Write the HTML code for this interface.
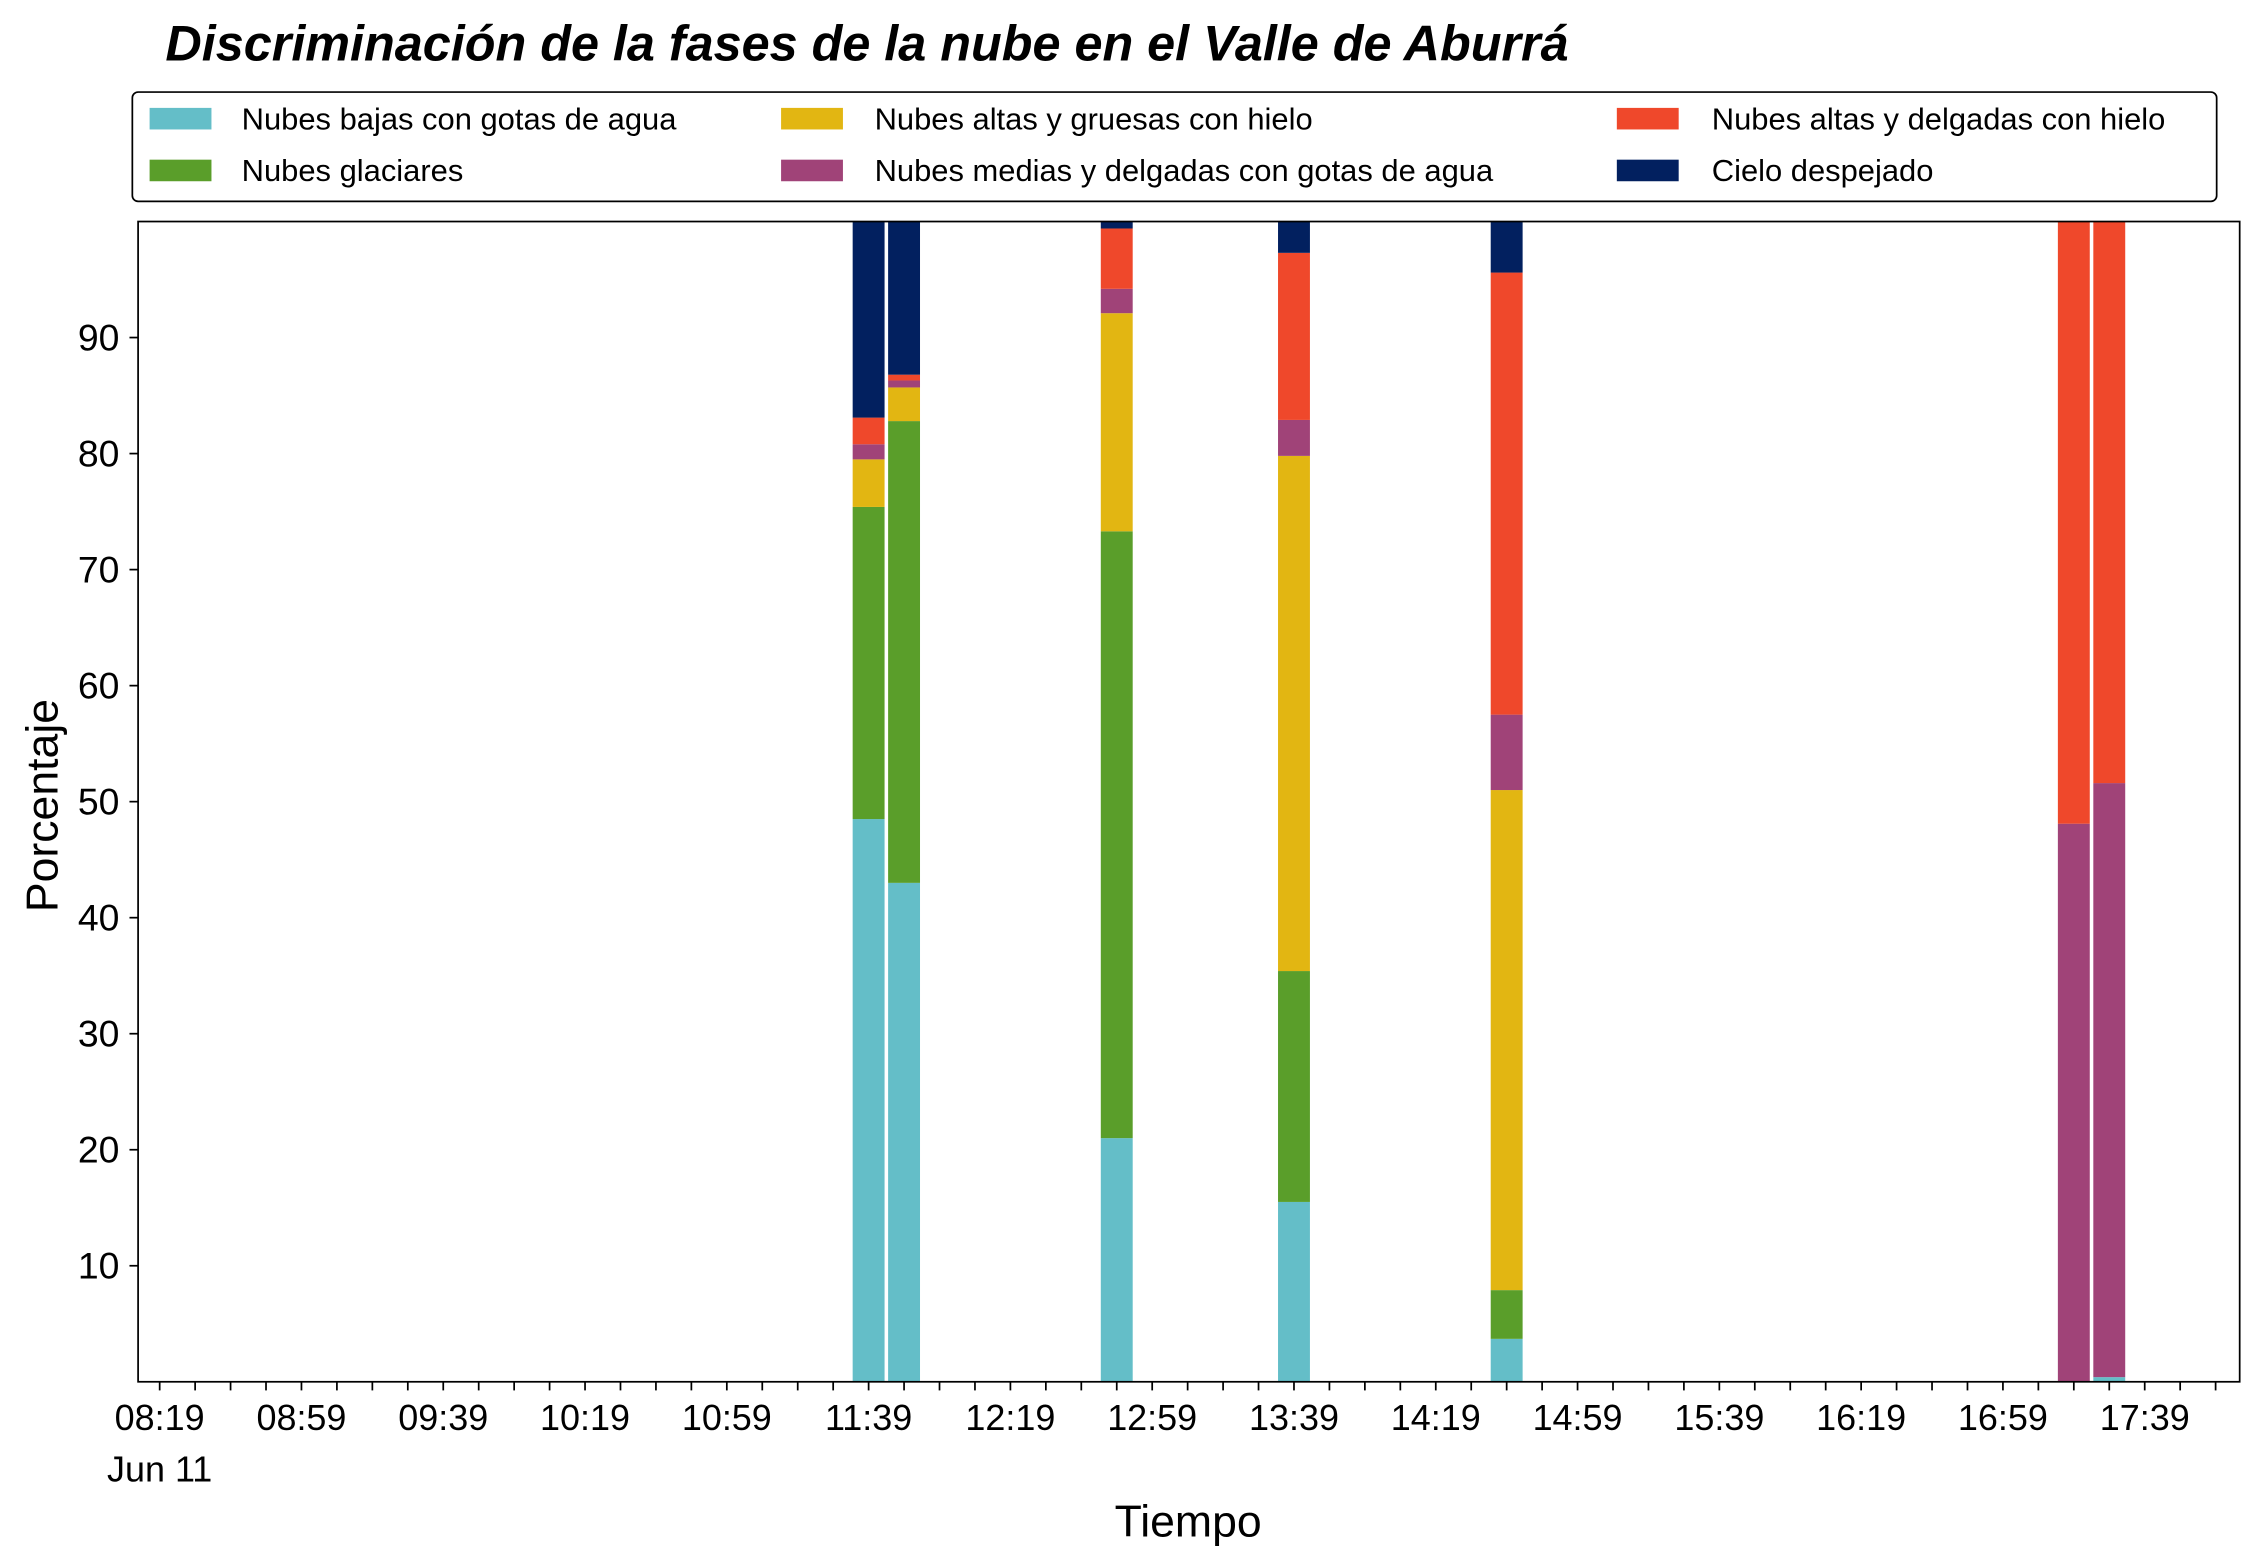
<!DOCTYPE html>
<html><head><meta charset="utf-8"><style>html,body{margin:0;padding:0;background:#fff}svg{display:block}text{font-family:"Liberation Sans",sans-serif}</style></head>
<body>
<svg id="chart" xmlns="http://www.w3.org/2000/svg" width="2244" height="1559" viewBox="0 0 1560 1083.8">
<rect width="1560" height="1083.8" fill="#fff"/>
<text x="115" y="42" font-size="35" font-weight="bold" font-style="italic" fill="#000">Discriminación de la fases de la nube en el Valle de Aburrá</text>
<g>
<rect x="92" y="64" width="1449" height="76" rx="4" fill="#fff" stroke="#000" stroke-width="1.2"/>
</g>
<g id="plot"></g>
<text transform="translate(40,560) rotate(-90)" text-anchor="middle" font-size="31">Porcentaje</text>
<text x="826" y="1068" text-anchor="middle" font-size="31">Tiempo</text>
<text x="111" y="1030" text-anchor="middle" font-size="25">Jun 11</text>
</svg>
<script>
const barTimes = ["11:39","11:49","12:49","13:39","14:39","17:19","17:29"];
const cyanVals   = [48.5, 43.0, 21.0, 15.5, 3.7, 0, 0.4];
const greenVals  = [26.9, 39.8, 52.3, 19.9, 4.2, 0, 0];
const yellowVals = [4.1, 2.9, 18.8, 44.4, 43.1, 0, 0];
const purpleVals = [1.3, 0.6, 2.1, 3.1, 6.5, 48.1, 51.2];
const redVals    = [2.3, 0.5, 5.2, 14.4, 38.1, 51.9, 48.4];
const navyVals   = [16.9, 13.2, 0.6, 2.7, 4.4, 0, 0];
const seriesNames = ["Nubes bajas con gotas de agua","Nubes glaciares","Nubes altas y gruesas con hielo","Nubes medias y delgadas con gotas de agua","Nubes altas y delgadas con hielo","Cielo despejado"];
const yTicks = [10,20,30,40,50,60,70,80,90];
const xTickLabels = ["08:19","08:59","09:39","10:19","10:59","11:39","12:19","12:59","13:39","14:19","14:59","15:39","16:19","16:59","17:39"];

const colors = ["#64bec8","#5a9e2a","#e2b612","#a04378","#ef482b","#02205f"];
const series = [cyanVals,greenVals,yellowVals,purpleVals,redVals,navyVals];
const L=96,R=1557,T=154,B=960.6;
const toMin = s=>{const [h,m]=s.split(':').map(Number);return h*60+m;};
const t0 = toMin("08:19"), pxPerMin = 98.57/40, x0=111;
const xScale = m => x0 + (m - t0)*pxPerMin;
const yScale = v => B - (v/100)*(B-T);
const NS="http://www.w3.org/2000/svg";
const svg=document.getElementById('chart');
const plot=document.getElementById('plot');
function mk(tag,attrs,parent){const e=document.createElementNS(NS,tag);for(const k in attrs)e.setAttribute(k,attrs[k]);(parent||plot).appendChild(e);return e;}

// bars
const barW = 9*pxPerMin;
barTimes.forEach((t,i)=>{
  let cum=0; const cx=xScale(toMin(t));
  series.forEach((s,j)=>{
    const v=s[i]; if(v<=0){return;}
    const r=mk('rect',{x:cx-barW/2,y:yScale(Math.min(100,cum+v)),width:barW,height:yScale(cum)-yScale(Math.min(100,cum+v)),fill:colors[j]});
    
    
    cum+=v;
  });
});
// axes frame
const fr=mk('rect',{x:L,y:T,width:R-L,height:B-T,fill:'none',stroke:'#000','stroke-width':1.2});


// y ticks
yTicks.forEach(v=>{
  const y=yScale(v);
  mk('line',{x1:L-6,x2:L,y1:y,y2:y,stroke:'#000','stroke-width':1.2});
  const tx=mk('text',{x:L-13,y:y+9,'text-anchor':'end','font-size':26});
  tx.textContent=v;
  
  
});
// x ticks every 10 min
for(let m=toMin("08:19")-0; xScale(m)<=R; m+=10){
  if(xScale(m)<L) continue;
  mk('line',{x1:xScale(m),x2:xScale(m),y1:B,y2:B+6,stroke:'#000','stroke-width':1.2});
}
xTickLabels.forEach(l=>{
  const tx=mk('text',{x:xScale(toMin(l)),y:994,'text-anchor':'middle','font-size':25});
  tx.textContent=l;
  
  
});
// legend entries
const lg=[[104,168,82],[104,168,118],[543,608,82],[543,608,118],[1124,1190,82],[1124,1190,118]];
seriesNames.forEach((n,i)=>{
  const [hx,tx,y]=lg[i];
  const g=mk('g',{},svg);
  
  
  mk('rect',{x:hx,y:y-7,width:43,height:15,fill:colors[i]},g);
  const t=mk('text',{x:tx,y:y+8,'font-size':21.5},g);
  t.textContent=n;
});
</script>
</body></html>
